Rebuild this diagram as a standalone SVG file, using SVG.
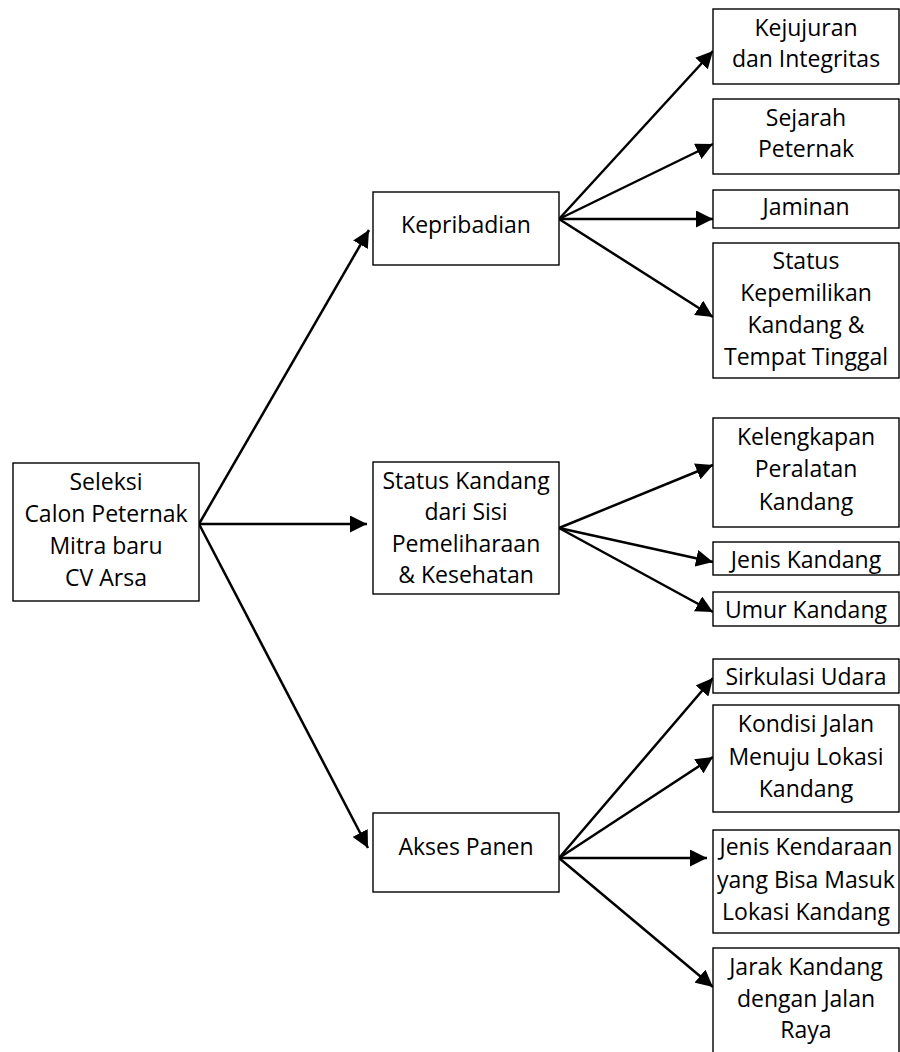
<svg xmlns="http://www.w3.org/2000/svg" width="900" height="1052" viewBox="0 0 900 1052">
<style>
rect.box{fill:#fff;stroke:#000;stroke-width:1.4}
text{font-family:"Open Sans","Noto Sans","Liberation Sans",sans-serif;font-size:23px;fill:#000;text-anchor:middle}
.c line{stroke:#000;stroke-width:2.5;marker-end:url(#ah)}
</style>
<defs>
<marker id="ah" markerUnits="userSpaceOnUse" markerWidth="17" markerHeight="17" refX="16" refY="8" orient="auto" viewBox="0 0 16 16">
<path d="M0,0 L16,8 L0,16 z" fill="#000"/>
</marker>
</defs>
<rect width="900" height="1052" fill="#fff"/>
<g class="c" id="connectors">
<line x1="199" y1="524" x2="369" y2="230"/>
<line x1="199" y1="524" x2="367" y2="524"/>
<line x1="199" y1="524" x2="368" y2="848"/>
<line x1="559" y1="219" x2="713" y2="51"/>
<line x1="559" y1="219" x2="713" y2="144"/>
<line x1="559" y1="219" x2="713" y2="219"/>
<line x1="559" y1="219" x2="713" y2="317"/>
<line x1="559" y1="528" x2="713" y2="465"/>
<line x1="559" y1="528" x2="713" y2="562"/>
<line x1="559" y1="528" x2="713" y2="612"/>
<line x1="559" y1="858" x2="713" y2="678"/>
<line x1="559" y1="858" x2="713" y2="757"/>
<line x1="559" y1="858" x2="707" y2="858"/>
<line x1="559" y1="858" x2="713" y2="987"/>
</g>
<g id="root"><rect class="box" x="13" y="463" width="186" height="138"/>
<text x="106" y="490">Seleksi</text><text x="106" y="522">Calon Peternak</text><text x="106" y="554">Mitra baru</text><text x="106" y="586">CV Arsa</text></g>
<g id="kepribadian"><rect class="box" x="373" y="192" width="186" height="73"/>
<text x="466" y="233">Kepribadian</text></g>
<g id="status-kandang"><rect class="box" x="373" y="462" width="186" height="132"/>
<text x="466" y="489">Status Kandang</text><text x="466" y="520">dari Sisi</text><text x="466" y="552">Pemeliharaan</text><text x="466" y="583">&amp; Kesehatan</text></g>
<g id="akses-panen"><rect class="box" x="373" y="813" width="186" height="79"/>
<text x="466" y="855">Akses Panen</text></g>
<g id="kejujuran"><rect class="box" x="713" y="9" width="186" height="75"/>
<text x="806" y="36">Kejujuran</text><text x="806" y="67">dan Integritas</text></g>
<g id="sejarah"><rect class="box" x="713" y="99" width="186" height="75"/>
<text x="806" y="126">Sejarah</text><text x="806" y="157">Peternak</text></g>
<g id="jaminan"><rect class="box" x="713" y="190" width="186" height="38"/>
<text x="806" y="215">Jaminan</text></g>
<g id="status-kepemilikan"><rect class="box" x="713" y="243" width="186" height="135"/>
<text x="806" y="269">Status</text><text x="806" y="301">Kepemilikan</text><text x="806" y="333">Kandang &amp;</text><text x="806" y="365">Tempat Tinggal</text></g>
<g id="kelengkapan"><rect class="box" x="713" y="418" width="186" height="109"/>
<text x="806" y="445">Kelengkapan</text><text x="806" y="477">Peralatan</text><text x="806" y="510">Kandang</text></g>
<g id="jenis-kandang"><rect class="box" x="713" y="542" width="186" height="33"/>
<text x="806" y="568">Jenis Kandang</text></g>
<g id="umur-kandang"><rect class="box" x="713" y="592" width="186" height="34"/>
<text x="806" y="618">Umur Kandang</text></g>
<g id="sirkulasi"><rect class="box" x="713" y="659" width="186" height="34"/>
<text x="806" y="685">Sirkulasi Udara</text></g>
<g id="kondisi-jalan"><rect class="box" x="713" y="705" width="186" height="107"/>
<text x="806" y="732">Kondisi Jalan</text><text x="806" y="765">Menuju Lokasi</text><text x="806" y="797">Kandang</text></g>
<g id="jenis-kendaraan"><rect class="box" x="713" y="830" width="186" height="103"/>
<text x="806" y="855">Jenis Kendaraan</text><text x="806" y="888">yang Bisa Masuk</text><text x="806" y="920">Lokasi Kandang</text></g>
<g id="jarak-kandang"><rect class="box" x="713" y="948" width="186" height="112"/>
<text x="806" y="975">Jarak Kandang</text><text x="806" y="1007">dengan Jalan</text><text x="806" y="1038">Raya</text></g>
</svg>
